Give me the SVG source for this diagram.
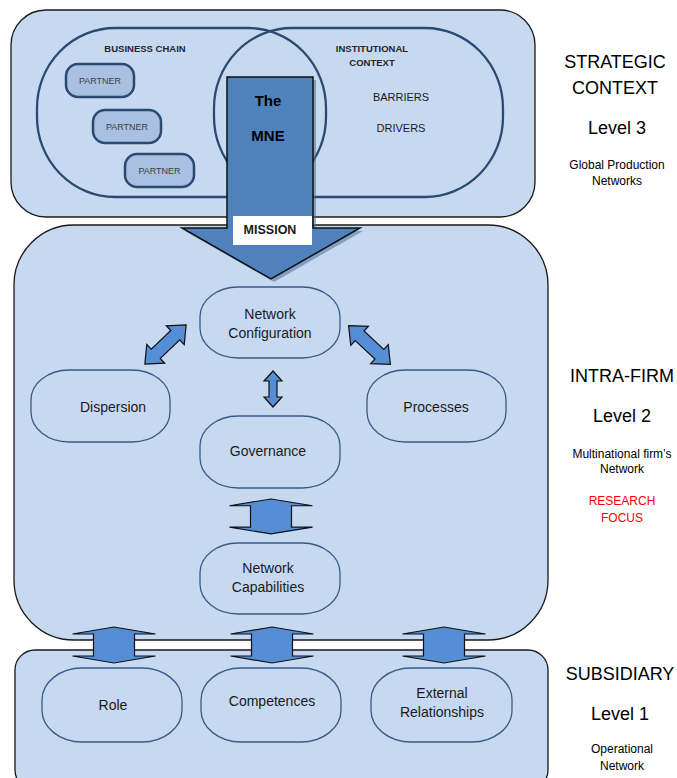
<svg xmlns="http://www.w3.org/2000/svg" width="677" height="778" viewBox="0 0 677 778">
  <style>
    .panel { fill: #c6d9f1; stroke: #1a1a1a; stroke-width: 1.3; }
    .node { fill: #c6d9f1; stroke: #3b5a85; stroke-width: 1.3; }
    .loop { fill: none; stroke: #2b4a72; stroke-width: 2.3; }
    .partner { fill: #a9c0e2; stroke: #2b4a72; stroke-width: 2.5; }
    .arrow { fill: #558ed5; stroke: #111; stroke-width: 1.2; stroke-linejoin: miter; }
    text { font-family: "Liberation Sans", Arial, sans-serif; fill: #1a1a1a; text-anchor: middle; }
    .lbl { font-size: 14px; }
    .cap { font-size: 9.5px; font-weight: bold; fill: #262626; }
    .ptn { font-size: 9px; fill: #404040; }
    .ctx { font-size: 11px; }
    .mne { font-size: 15px; font-weight: bold; fill: #000; }
    .head { font-size: 18px; fill: #000; }
    .sub { font-size: 12px; fill: #000; }
    .focus { font-size: 12px; fill: #ff0000; }
  </style>
  <defs>
    <!-- diagonal double arrow, drawn along the x axis -->
    <path id="diag" d="M-28.5,0 L-13.5,-13 L-13.5,-6.5 L13.5,-6.5 L13.5,-13 L28.5,0 L13.5,13 L13.5,6.5 L-13.5,6.5 L-13.5,13 Z"/>
    <!-- wide vertical double arrow between stacked boxes -->
    <path id="wide" d="M0,0 L41.5,7 L20.5,7 L20.5,29 L41.5,29 L0,36 L-41.5,29 L-20.5,29 L-20.5,7 L-41.5,7 Z"/>
  </defs>

  <!-- level panels -->
  <g id="strategic-panel">
    <rect class="panel" x="11" y="10" width="524" height="207" rx="35" ry="35"/>
  </g>
  <g id="intra-firm-panel">
    <rect class="panel" x="14" y="225" width="534" height="415" rx="60" ry="60"/>
  </g>
  <g id="subsidiary-panel">
    <rect class="panel" x="15" y="650" width="533" height="140" rx="20" ry="20"/>
  </g>

  <!-- strategic context contents -->
  <g id="business-chain">
    <rect class="loop" x="37" y="28" width="289" height="169" rx="78" ry="80"/>
    <text class="cap" x="145" y="52">BUSINESS CHAIN</text>
  </g>
  <g id="institutional-context">
    <rect class="loop" x="214" y="28" width="289" height="169" rx="78" ry="80"/>
    <text class="cap" x="372" y="52">INSTITUTIONAL</text>
    <text class="cap" x="372" y="66">CONTEXT</text>
    <text class="ctx" x="401" y="101">BARRIERS</text>
    <text class="ctx" x="401" y="132">DRIVERS</text>
  </g>
  <g id="partner-1">
    <rect class="partner" x="66" y="64" width="68" height="33" rx="12"/>
    <text class="ptn" x="100" y="84">PARTNER</text>
  </g>
  <g id="partner-2">
    <rect class="partner" x="93" y="110" width="68" height="33" rx="12"/>
    <text class="ptn" x="127" y="130">PARTNER</text>
  </g>
  <g id="partner-3">
    <rect class="partner" x="125" y="154" width="69" height="33" rx="12"/>
    <text class="ptn" x="159.5" y="174">PARTNER</text>
  </g>

  <!-- the MNE block arrow with its mission label -->
  <g id="mne">
    <polygon points="230,80 316,80 316,231 363,231 274,282 185,231 230,231" fill="#4a6d99" opacity="0.55"/>
    <polygon points="227,77 313,77 313,228 360,228 271,279 182,228 227,228" fill="#4f81bd" stroke="#111" stroke-width="1.5"/>
    <text class="mne" x="268" y="106">The</text>
    <text class="mne" x="268" y="141">MNE</text>
    <rect x="233" y="216" width="79" height="29" fill="#fff"/>
    <text x="270" y="234" font-size="12.5" font-weight="bold" fill="#000">MISSION</text>
  </g>

  <!-- intra-firm nodes -->
  <g id="network-configuration">
    <rect class="node" x="200" y="287" width="140" height="71" rx="38" ry="30"/>
    <text class="lbl" x="270" y="319">Network</text>
    <text class="lbl" x="270" y="338">Configuration</text>
  </g>
  <g id="dispersion">
    <rect class="node" x="31" y="370" width="139" height="72" rx="38" ry="30"/>
    <text class="lbl" x="113" y="412">Dispersion</text>
  </g>
  <g id="processes">
    <rect class="node" x="367" y="370" width="139" height="72" rx="38" ry="30"/>
    <text class="lbl" x="436" y="412">Processes</text>
  </g>
  <g id="governance">
    <rect class="node" x="200" y="416" width="140" height="72" rx="38" ry="30"/>
    <text class="lbl" x="268" y="456">Governance</text>
  </g>
  <g id="network-capabilities">
    <rect class="node" x="200" y="543" width="140" height="71" rx="38" ry="30"/>
    <text class="lbl" x="268" y="573">Network</text>
    <text class="lbl" x="268" y="592">Capabilities</text>
  </g>

  <!-- subsidiary nodes -->
  <g id="role">
    <rect class="node" x="42" y="668" width="140" height="74" rx="40" ry="32"/>
    <text class="lbl" x="113" y="710">Role</text>
  </g>
  <g id="competences">
    <rect class="node" x="201" y="668" width="140" height="74" rx="40" ry="32"/>
    <text class="lbl" x="272" y="706">Competences</text>
  </g>
  <g id="external-relationships">
    <rect class="node" x="371" y="668" width="141" height="74" rx="40" ry="32"/>
    <text class="lbl" x="442" y="698">External</text>
    <text class="lbl" x="442" y="717">Relationships</text>
  </g>

  <!-- connectors -->
  <g id="connectors">
    <use href="#diag" class="arrow" transform="translate(165.5,344.5) rotate(-43.6)"/>
    <use href="#diag" class="arrow" transform="translate(369.5,345) rotate(42.8)"/>
    <path class="arrow" d="M273,371 L282,381 L277,381 L277,397 L282,397 L273,407 L264,397 L269,397 L269,381 L264,381 Z"/>
    <use href="#wide" class="arrow" transform="translate(271,499) scale(1,0.97)"/>
    <use href="#wide" class="arrow" transform="translate(114,627)"/>
    <use href="#wide" class="arrow" transform="translate(272,627)"/>
    <use href="#wide" class="arrow" transform="translate(444,627)"/>
  </g>

  <!-- level captions -->
  <g id="level-3">
    <text class="head" x="615" y="68">STRATEGIC</text>
    <text class="head" x="615" y="94">CONTEXT</text>
    <text class="head" x="617" y="134">Level 3</text>
    <text class="sub" x="617" y="169">Global Production</text>
    <text class="sub" x="617" y="185">Networks</text>
  </g>
  <g id="level-2">
    <text class="head" x="622" y="382">INTRA-FIRM</text>
    <text class="head" x="622" y="422">Level 2</text>
    <text class="sub" x="622" y="458">Multinational firm’s</text>
    <text class="sub" x="622" y="473">Network</text>
    <text class="focus" x="622" y="505">RESEARCH</text>
    <text class="focus" x="622" y="522">FOCUS</text>
  </g>
  <g id="level-1">
    <text class="head" x="620" y="680">SUBSIDIARY</text>
    <text class="head" x="620" y="720">Level 1</text>
    <text class="sub" x="622" y="753">Operational</text>
    <text class="sub" x="622" y="770">Network</text>
  </g>
</svg>
